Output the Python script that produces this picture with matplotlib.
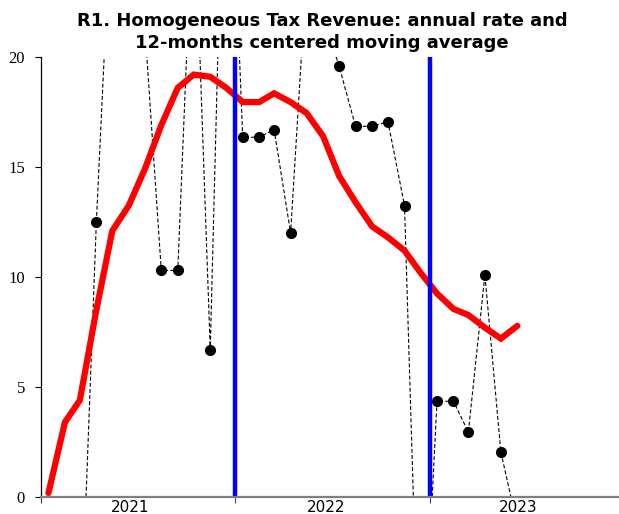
import matplotlib
matplotlib.use("Agg")
import matplotlib.pyplot as plt
import matplotlib.dates as mdates
from datetime import datetime

# ---- data -------------------------------------------------------------
months = ["2021-01", "2021-02", "2021-03", "2021-04", "2021-05", "2021-06",
          "2021-07", "2021-08", "2021-09", "2021-10", "2021-11", "2021-12",
          "2022-01", "2022-02", "2022-03", "2022-04", "2022-05", "2022-06",
          "2022-07", "2022-08", "2022-09", "2022-10", "2022-11", "2022-12",
          "2023-01", "2023-02", "2023-03", "2023-04", "2023-05", "2023-06"]

annual_rate = [-6.0, -9.0, -7.5, 12.5, 27.8, 30.0,
               21.4, 10.3, 10.3, 28.0, 6.7, 35.0,
               16.35, 16.35, 16.7, 12.0, 23.9, 21.8,
               19.6, 16.85, 16.85, 17.05, 13.25, -10.7,
               4.35, 4.35, 2.95, 10.1, 2.05, -1.3]

moving_avg = [0.18, 3.4, 4.4, 8.5, 12.1, 13.25,
              14.9, 16.9, 18.6, 19.2, 19.1, 18.6,
              17.95, 17.95, 18.35, 17.95, 17.45, 16.4,
              14.6, 13.4, 12.3, 11.8, 11.2, 10.2,
              9.25, 8.55, 8.27, 7.7, 7.2, 7.78]

year_breaks = ["2022-01-01", "2023-01-01"]
year_ticks = ["2021-01-01", "2022-01-01", "2023-01-01"]
year_labels = ["2021", "2022", "2023"]
year_label_pos = ["2021-06-18", "2022-06-20", "2023-06-17"]

title_lines = ["R1. Homogeneous Tax Revenue: annual rate and",
               "12-months centered moving average"]

# ---- plotting ---------------------------------------------------------
dates = [datetime.strptime(m + "-15", "%Y-%m-%d") for m in months]
to_dt = lambda s: datetime.strptime(s, "%Y-%m-%d")

W, H = 619, 514
fig = plt.figure(figsize=(W / 100, H / 100), dpi=100)
ax = fig.add_axes([41 / W, (H - 497) / H, (W - 41) / W, (497 - 57) / H])

ax.plot(dates, annual_rate, color="black", lw=0.8, ls=(0, (3.5, 2)),
        marker="o", ms=7, mfc="black", mec="black", zorder=2)
ax.plot(dates, moving_avg, color="#ff0000", lw=4.5, solid_capstyle="round",
        solid_joinstyle="miter", zorder=3)
for yb in year_breaks:
    ax.axvline(to_dt(yb), color="#0000ff", lw=3.2, zorder=4)

ax.set_ylim(0, 20)
ax.set_xlim(to_dt("2021-01-01"), to_dt("2023-12-23"))

ax.set_yticks([0, 5, 10, 15, 20])
ax.set_yticklabels(["0", "5", "10", "15", "20"], family="Liberation Serif",
                   fontsize=12)
ax.tick_params(axis="y", direction="out", length=4.5, width=0.8,
               color="black", pad=7)

ax.set_xticks([to_dt(t) for t in year_ticks])
ax.set_xticklabels([])
ax.set_xticks([to_dt(t) for t in year_label_pos], minor=True)
ax.set_xticklabels(year_labels, minor=True, family="DejaVu Sans", fontsize=11)
ax.tick_params(axis="x", which="major", direction="out", length=4,
               width=0.8, color="#444444")
ax.tick_params(axis="x", which="minor", length=0, pad=2)

for s in ["top", "right"]:
    ax.spines[s].set_visible(False)
ax.spines["left"].set_color("black")
ax.spines["left"].set_linewidth(0.9)
ax.spines["bottom"].set_color("#808080")
ax.spines["bottom"].set_linewidth(1.6)
ax.spines["bottom"].set_zorder(5)

fig.text(322 / W, 1 - 21 / H, title_lines[0], ha="center", va="center",
         fontsize=13, fontweight="bold", family="DejaVu Sans")
fig.text(322 / W, 1 - 43 / H, title_lines[1], ha="center", va="center",
         fontsize=13, fontweight="bold", family="DejaVu Sans")

fig.savefig("out.png", dpi=100)
